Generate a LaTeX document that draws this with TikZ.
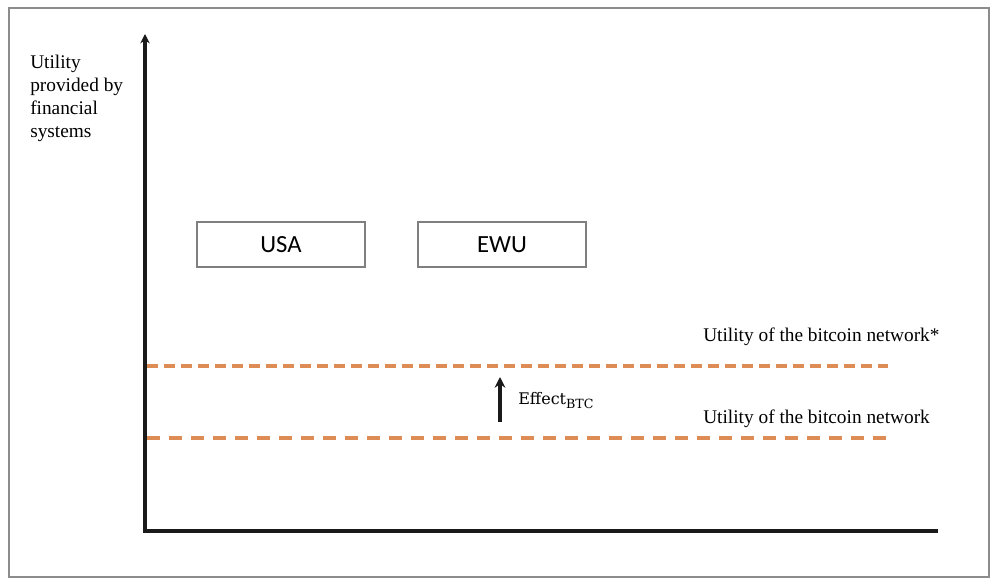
\documentclass[tikz,border=0pt]{standalone}
\usepackage{fontspec}
\setmainfont{Liberation Serif}
\newfontfamily\boxfont{Carlito}
\newfontfamily\effont{DejaVu Serif}
\usetikzlibrary{arrows.meta}
\definecolor{frameg}{HTML}{8C8C8C}
\definecolor{boxg}{HTML}{7F7F7F}
\definecolor{orangeline}{HTML}{DE8C55}
\definecolor{axisc}{HTML}{1A1A1A}
\tikzset{
  country/.style={draw=boxg, line width=0.8pt, minimum width=126pt, minimum height=33.75pt, inner sep=0pt, font=\boxfont\fontsize{18.5}{20}\selectfont},
  axisline/.style={draw=axisc, line width=2.7pt},
  lvlhi/.style={draw=orangeline, line width=2.6pt, dash pattern=on 8.25pt off 4.5pt},
  lvllo/.style={draw=orangeline, line width=2.6pt, dash pattern=on 9.75pt off 6.75pt},
  lbl/.style={inner sep=0pt, font=\fontsize{14.5}{17.25}\selectfont},
}
\begin{document}
\begin{tikzpicture}[x=0.75pt, y=-0.75pt]
\useasboundingbox (0,0) rectangle (1001,588);
\draw[frameg, line width=1.3pt] (9,8) rectangle (989,577);
% axes
\coordinate (origin) at (145,531);
\coordinate (ytop) at (145,34);
\coordinate (xend) at (938,531);
\draw[axisline, line join=miter, -{Stealth[length=7pt, width=7pt]}] (xend) -- (origin) -- (ytop);
% y label
\node[lbl, anchor=north west, align=left] (ylabel) at (30,55) {Utility\\provided by\\financial\\systems};
% boxes
\node[country] (usa) at (281,244.5) {USA};
\node[country] (ewu) at (502,244.5) {EWU};
% dashed levels
\coordinate (hiL) at (147,366);
\coordinate (hiR) at (888,366);
\coordinate (loL) at (147,438);
\coordinate (loR) at (888,438);
\draw[lvlhi] (hiL) -- (hiR);
\draw[lvllo] (loL) -- (loR);
\node[lbl, anchor=base west] (hitext) at (703,342) {Utility of the bitcoin network*};
\node[lbl, anchor=base west] (lotext) at (703,423) {Utility of the bitcoin network};
% effect
\coordinate (effB) at (500,422);
\coordinate (effT) at (500,377);
\draw[axisline, -{Stealth[length=8pt, width=8pt]}] (effB) -- (effT);
\node[inner sep=0pt, anchor=base west, font=\effont\fontsize{12}{14}\selectfont] (efftext) at (518,404) {Effect\raisebox{-3.2pt}{\fontsize{9.5}{10}\selectfont BTC}};
\end{tikzpicture}
\end{document}
